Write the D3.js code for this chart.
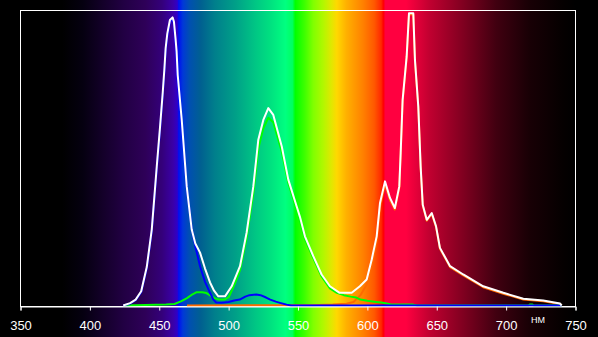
<!DOCTYPE html>
<html><head><meta charset="utf-8">
<script src="https://cdn.jsdelivr.net/npm/d3@7"></script>
<style>html,body{margin:0;padding:0;background:#000;}svg{display:block;}</style>
</head><body>
<svg id="c" width="598" height="337"></svg>
<script>
// ---- data ----
const xTicks = [350,400,450,500,550,600,650,700,750];
const unitLabel = "НМ";
const whiteSeries = [[424,0],[429,0.8],[433,2],[437,4.8],[441,13],[444.6,25.7],[448.2,47],[450.5,60],[452.5,72],[453.7,80],[454.6,87],[455.8,92],[457.7,96.6],[459.6,97.5],[460.6,96],[461.8,90],[462.5,86],[463.3,78],[466.2,62.8],[469.8,40.3],[473.4,25.7],[476,21],[479.4,17.9],[483,12.5],[486.6,7.8],[489.5,5],[492.6,3.1],[497.4,3.1],[502.2,6.5],[508.2,13.3],[513,24.7],[517.8,40.3],[521.4,56.1],[525,62.8],[528.6,66.8],[532.2,64.5],[538.3,53.8],[543,42.6],[549,33.6],[551.4,30],[555,23.4],[561,16.7],[567,10.5],[573,6.5],[580,4.3],[588.7,4.3],[594.6,6.5],[599.5,8.8],[603.1,15.5],[606.7,23.4],[609.1,34.7],[612.7,42],[616.3,36.4],[619.8,33],[623,40.3],[624,51.7],[625.4,69.6],[628.3,84.2],[630,98.9],[633.1,98.9],[634.3,83.1],[636.7,67.3],[638.4,47],[639.9,34.1],[642.8,29],[646.4,31.3],[649.5,26.8],[652.3,19.5],[659.6,13.3],[669.1,10.5],[683.5,6.5],[698,4.3],[712.4,2.3],[726.8,1.7],[738.8,0.7],[740,0]];
const blueSeries = [[424,0],[429,0.6],[433,1.8],[437,4.5],[441,12.5],[444.6,25],[448.2,46],[450.5,59],[452.5,71],[453.7,79],[454.6,86],[455.8,91],[457.7,96],[459.6,97],[460.6,95],[461.8,89],[462.5,84],[463.3,76],[466,62],[469.8,40],[473.4,26],[476,20],[479.4,13.3],[483,8],[486.6,4.3],[489,2],[491,1],[495,0.9],[500,1.2],[504,1.7],[508,2],[512,3],[515,3.5],[520,3.7],[523,3.5],[527,2.7],[530,2],[534,1.3],[537,0.9],[541.8,0.3],[545,0],[740,0]];
const greenSeries = [[425,0],[440,0.2],[455,0.3],[461,0.5],[466,1.5],[470,2.5],[474,3.8],[477,4.5],[481,4.5],[484,4.2],[487,3.3],[490,2.5],[493,2],[497,2],[500,2.8],[502.2,5],[505,8],[508.2,12],[513,23],[517.8,38],[521.4,53],[525,60],[528.6,63.5],[532.2,62],[538.3,52],[543,41.5],[549,32.5],[551.4,28.5],[555,22.5],[561,16],[567,9.8],[573,5.8],[578,4.3],[583,3.5],[588,3],[592,2.7],[595,2],[600,1.6],[605,1.3],[610,1],[614,0.7],[618,0.3],[633,0.3],[636,0],[716,0],[717,0.3],[719,0.3],[720,0],[740,0]];
const redSeries = [[470,0],[560,0.1],[575,0.3],[585,0.6],[590,1.2],[595,3.5],[599.5,7],[603.1,14],[606.7,22],[609.1,33.5],[612.7,41],[616.3,35.6],[619.8,32.5],[623,39.8],[624,51.2],[625.4,69],[628.3,83.7],[630,98.5],[633.1,98.5],[634.3,82.7],[636.7,67],[638.4,46.7],[639.9,33.8],[642.8,28.7],[646.4,31],[649.5,26.5],[652.3,19.2],[659.6,13],[669.1,10.2],[683.5,6.2],[698,4],[712.4,2],[726.8,1.4],[738.8,0.5],[740,0]];
const spectrumStops = [[350,"#000000"],[380,"#000000"],[395,"#050010"],[410,"#14002a"],[425,"#220044"],[440,"#2e0058"],[452,"#34007a"],[460,"#3a00a8"],[463,"#3000c8"],[464,"#0010f0"],[467,"#0038d8"],[472,"#0050b0"],[480,"#006090"],[490,"#007f8c"],[505,"#00a088"],[520,"#00c884"],[530,"#00e080"],[541,"#00ff80"],[546,"#00ff60"],[548,"#00ff00"],[555,"#40ff00"],[561,"#80ff00"],[568,"#b0f800"],[574,"#e0e800"],[578,"#ffd800"],[585,"#ffb000"],[597,"#ff8000"],[605,"#ff5800"],[610,"#ff2800"],[611.5,"#ff0000"],[613,"#ff0040"],[628,"#ff0040"],[645,"#c00030"],[669,"#800020"],[693,"#400010"],[717,"#180005"],[741,"#050000"],[750,"#000000"]];

// ---- layout ----
const W = 598, H = 337;
const x = d3.scaleLinear().domain([350,750]).range([20.5,575.5]);
const y = d3.scaleLinear().domain([0,100]).range([305.5,10]);
const svg = d3.select("#c");
svg.append("rect").attr("width",W).attr("height",H).attr("fill","#000");

const defs = svg.append("defs");
const grad = defs.append("linearGradient").attr("id","spec")
  .attr("gradientUnits","userSpaceOnUse")
  .attr("x1",x(350)).attr("x2",x(750)).attr("y1",0).attr("y2",0);
grad.selectAll("stop").data(spectrumStops).join("stop")
  .attr("offset",d=>(d[0]-350)/400)
  .attr("stop-color",d=>d[1]);
svg.append("rect").attr("x",x(350)).attr("y",0).attr("width",x(750)-x(350)).attr("height",H)
  .attr("fill","url(#spec)");

// frame
svg.append("rect").attr("x",20.5).attr("y",10.5).attr("width",555).attr("height",296)
  .attr("fill","none").attr("stroke","#fff").attr("stroke-width",1);

const line = d3.line().x(d=>x(d[0])).y(d=>y(d[1]));
const series = [[redSeries,"#ff6a00"],[greenSeries,"#00ff00"],[blueSeries,"#0000ff"],[whiteSeries,"#ffffff"]];
series.forEach(([s,c])=>{
  svg.append("path").datum(s).attr("d",line).attr("fill","none")
    .attr("stroke",c).attr("stroke-width",2).attr("stroke-linejoin","round");
});

// axis
const axis = d3.axisBottom(x).tickValues(xTicks).tickSize(4).tickPadding(10).tickFormat(d3.format("d"));
const g = svg.append("g").attr("transform","translate(0,306.5)").call(axis);
g.select(".domain").attr("stroke","#fff");
g.selectAll(".tick line").attr("stroke","#fff");
g.selectAll(".tick text").attr("fill","#fff").attr("font-family","Liberation Sans, Arial, sans-serif").attr("font-size",13);

svg.append("text").attr("x",538).attr("y",323).attr("text-anchor","middle")
  .attr("fill","#fff").attr("font-family","Liberation Sans, Arial, sans-serif").attr("font-size",9)
  .text(unitLabel);
</script>
</body></html>
